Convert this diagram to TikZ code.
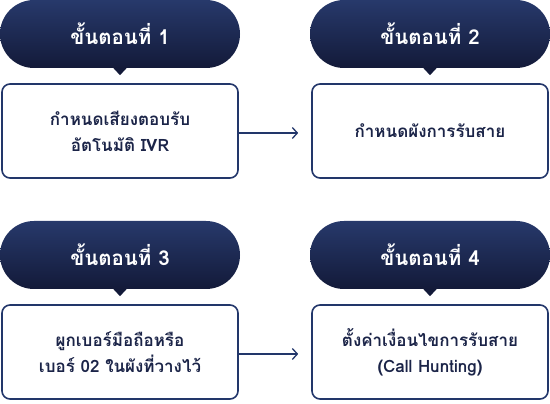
\documentclass[tikz,border=0pt]{standalone}
\usepackage{fontspec}
\newfontfamily\thaifont[Script=Thai]{Loma}
\usetikzlibrary{positioning,arrows.meta}
\definecolor{navytop}{HTML}{27396B}
\definecolor{navybot}{HTML}{131A39}
\definecolor{navyline}{HTML}{22366A}
\definecolor{navytext}{HTML}{1B2448}
\tikzset{
  steppill/.style={rounded corners=34pt, minimum width=240pt, minimum height=68pt,
    inner sep=0pt, top color=navytop, bottom color=navybot, text=white,
    font=\thaifont\bfseries\fontsize{20.5}{24}\selectfont},
  stepbox/.style={draw=navyline, line width=1.6pt, rounded corners=8pt, fill=white,
    minimum width=236pt, minimum height=94pt, align=center, text=navytext,
    font=\thaifont\bfseries\fontsize{17}{26}\selectfont},
  steparrow/.style={-{Straight Barb[length=5pt,width=11pt]}, navyline,
    line width=1.3pt, shorten >=13pt}
}
\begin{document}
\begin{tikzpicture}
    \useasboundingbox (0,0) rectangle (550pt,404pt);

    \node[steppill] (s1) at (120pt,370pt) {ขั้นตอนที่ 1};
    \node[steppill] (s2) at (430pt,370pt) {ขั้นตอนที่ 2};
    \node[steppill] (s3) at (120pt,149pt) {ขั้นตอนที่ 3};
    \node[steppill] (s4) at (430pt,149pt) {ขั้นตอนที่ 4};

    \node[stepbox, below=15pt of s1] (b1) {กำหนดเสียงตอบรับ\\อัตโนมัติ IVR};
    \node[stepbox, below=15pt of s2] (b2) {กำหนดผังการรับสาย};
    \node[stepbox, below=15pt of s3] (b3) {ผูกเบอร์มือถือหรือ\\เบอร์ 02 ในผังที่วางไว้};
    \node[stepbox, below=15pt of s4] (b4) {ตั้งค่าเงื่อนไขการรับสาย\\(Call Hunting)};

    \fill[navybot] ([xshift=-7pt,yshift=0.5pt]s1.south) -- ([xshift=7pt,yshift=0.5pt]s1.south) -- ([yshift=-7pt]s1.south) -- cycle;
    \fill[navybot] ([xshift=-7pt,yshift=0.5pt]s2.south) -- ([xshift=7pt,yshift=0.5pt]s2.south) -- ([yshift=-7pt]s2.south) -- cycle;
    \fill[navybot] ([xshift=-7pt,yshift=0.5pt]s3.south) -- ([xshift=7pt,yshift=0.5pt]s3.south) -- ([yshift=-7pt]s3.south) -- cycle;
    \fill[navybot] ([xshift=-7pt,yshift=0.5pt]s4.south) -- ([xshift=7pt,yshift=0.5pt]s4.south) -- ([yshift=-7pt]s4.south) -- cycle;

    \draw[steparrow] ([yshift=-2pt]b1.east) -- ([yshift=-2pt]b2.west);
    \draw[steparrow] ([yshift=-2pt]b3.east) -- ([yshift=-2pt]b4.west);
\end{tikzpicture}
\end{document}
